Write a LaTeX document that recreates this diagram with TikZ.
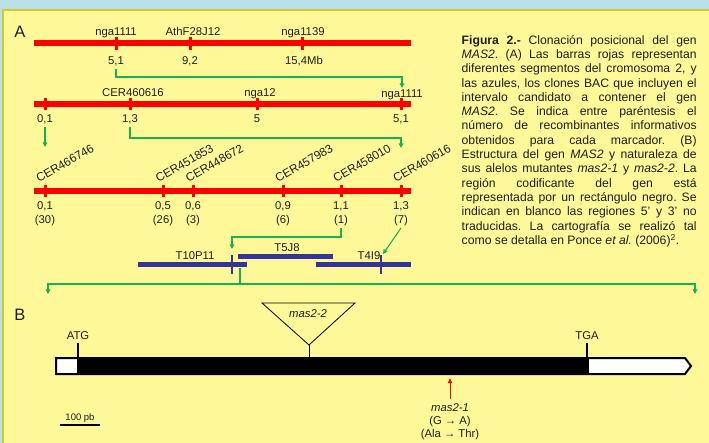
\documentclass[tikz,border=0pt]{standalone}
\usepackage{fontspec}
\setmainfont{Liberation Sans}
\usetikzlibrary{arrows.meta}
\definecolor{bgyellow}{RGB}{255,248,153}
\definecolor{bgblue}{RGB}{186,224,234}
\definecolor{bordercol}{RGB}{214,200,40}
\definecolor{mapred}{RGB}{255,0,0}
\definecolor{mapgreen}{RGB}{20,178,80}
\definecolor{navy}{RGB}{51,51,153}
\definecolor{txt}{RGB}{30,30,30}
\frenchspacing
\tikzset{
  redbar/.style={draw=mapred, line width=6pt},
  redtick/.style={draw=mapred, line width=3pt},
  bluebar/.style={draw=navy, line width=5pt},
  bluetick/.style={draw=navy, line width=2.5pt},
  lbl/.style={font=\fontsize{11.3}{13}\selectfont, text=txt, inner sep=0pt},
  rlbl/.style={font=\fontsize{11.8}{13}\selectfont, text=txt, inner sep=0pt, rotate=30, anchor=base west},
  panel/.style={font=\fontsize{16.5}{18}\selectfont, text=txt, inner sep=0pt, anchor=base},
  gline/.style={draw=mapgreen, line width=1.1pt},
  garrow/.style={gline, -{Triangle[width=4.5pt,length=4.5pt]}},
  blk/.style={draw=black, line width=2.5pt},
}
\begin{document}
\begin{tikzpicture}[x=1pt,y=-1pt]
\useasboundingbox (0,0) rectangle (709,443);
% background
\fill[bgblue] (0,0) rectangle (709,443);
\fill[bgyellow] (3,10) rectangle (709,443);
\draw[bordercol, line width=1.6pt] (3,443) -- (3,10) -- (709,10);

% panel letters
\node[panel] (pA) at (20,38) {A};
\node[panel] (pB) at (20,321) {B};

% ---------- bar 1 ----------
\coordinate (b1s) at (34,43); \coordinate (b1e) at (411,43);
\draw[redbar] (b1s) -- (b1e);
\foreach \x in {116,190,302} \draw[redtick] (\x,37.5) -- (\x,50);
\node[lbl, anchor=base] (t11) at (116,36) {nga1111};
\node[lbl, anchor=base] (t12) at (193,36) {AthF28J12};
\node[lbl, anchor=base] (t13) at (303,36) {nga1139};
\node[lbl, anchor=base] (n11) at (116,65) {5,1};
\node[lbl, anchor=base] (n12) at (190,65) {9,2};
\node[lbl, anchor=base] (n13) at (304,65) {15,4Mb};

\coordinate (g1b) at (402,77); \coordinate (g1c) at (402,88);
\draw[garrow] ([yshift=-2pt]n11.south) |- (g1b) -- (g1c);

% ---------- bar 2 ----------
\coordinate (b2s) at (34,104); \coordinate (b2e) at (411,104);
\draw[redbar] (b2s) -- (b2e);
\foreach \x in {45,130,257,401} \draw[redtick] (\x,98) -- (\x,110.5);
\node[lbl, anchor=base] (t21) at (133,96.5) {CER460616};
\node[lbl, anchor=base] (t22) at (260,96.5) {nga12};
\node[lbl, anchor=base] (t23) at (402,97.5) {nga1111};
\node[lbl, anchor=base] (n21) at (45,123) {0,1};
\node[lbl, anchor=base] (n22) at (130,123) {1,3};
\node[lbl, anchor=base] (n23) at (257,123) {5};
\node[lbl, anchor=base] (n24) at (401,123) {5,1};

\coordinate (g2a) at (45,147);
\draw[garrow] ([yshift=-2pt]n21.south) -- (g2a);
\coordinate (g3b) at (401,138); \coordinate (g3c) at (401,148);
\draw[garrow] ([yshift=-2pt]n22.south) |- (g3b) -- (g3c);

% ---------- bar 3 ----------
\coordinate (b3s) at (34,191); \coordinate (b3e) at (411,191);
\draw[redbar] (b3s) -- (b3e);
\foreach \x in {45,163,193,283,341,401} \draw[redtick] (\x,185) -- (\x,197.5);
\node[rlbl] (t31) at (39,183) {CER466746};
\node[rlbl] (t32) at (158.5,183) {CER451853};
\node[rlbl] (t33) at (188.5,183) {CER448672};
\node[rlbl] (t34) at (278,183) {CER457983};
\node[rlbl] (t35) at (336,183) {CER458010};
\node[rlbl] (t36) at (396,183) {CER460616};
\node[lbl, anchor=base] (n31) at (45,210) {0,1};
\node[lbl, anchor=base] (n32) at (163,210) {0,5};
\node[lbl, anchor=base] (n33) at (193,210) {0,6};
\node[lbl, anchor=base] (n34) at (283,210) {0,9};
\node[lbl, anchor=base] (n35) at (341,210) {1,1};
\node[lbl, anchor=base] (n36) at (401,210) {1,3};
\node[lbl, anchor=base] (r31) at (45,223.5) {(30)};
\node[lbl, anchor=base] (r32) at (163,223.5) {(26)};
\node[lbl, anchor=base] (r33) at (193,223.5) {(3)};
\node[lbl, anchor=base] (r34) at (283,223.5) {(6)};
\node[lbl, anchor=base] (r35) at (341,223.5) {(1)};
\node[lbl, anchor=base] (r36) at (401,223.5) {(7)};

\coordinate (g4b) at (232,237); \coordinate (g4c) at (232,249);
\draw[garrow] ([yshift=-2pt]r35.south) |- (g4b) -- (g4c);
\coordinate (g5b) at (383,254);
\draw[garrow] ([yshift=-2pt]r36.south) -- (g5b);

% ---------- BAC clones ----------
\coordinate (c1s) at (138,265); \coordinate (c1e) at (247,265);
\coordinate (c2s) at (238,257); \coordinate (c2e) at (333,257);
\coordinate (c3s) at (316,265); \coordinate (c3e) at (411,265);
\draw[bluebar] (c1s) -- (c1e);
\draw[bluebar] (c2s) -- (c2e);
\draw[bluebar] (c3s) -- (c3e);
\draw[bluetick] (232,255) -- (232,274);
\draw[bluetick] (381,255) -- (381,274);
\node[lbl, anchor=base] (k1) at (195,260) {T10P11};
\node[lbl, anchor=base] (k2) at (287,252) {T5J8};
\node[lbl, anchor=base] (k3) at (369,260) {T4I9};

\coordinate (g6a) at (240,268); \coordinate (g6b) at (240,284);
\coordinate (g6l) at (48,294); \coordinate (g6r) at (695,294);
\draw[gline] (g6a) -- (g6b);
\draw[garrow] (g6b) -| (g6l);
\draw[garrow] (g6b) -| (g6r);

% ---------- gene ----------
\filldraw[fill=white, draw=black, line width=2pt, line join=miter]
  (56,358) -- (685,358) -- (691,366) -- (685,374) -- (56,374) -- cycle;
\fill[black] (77,358) rectangle (589,374);
\draw[black, line width=2pt] (56,358) -- (589,358) (56,374) -- (589,374);
\coordinate (atg) at (78,358); \coordinate (tga) at (587,358);
\draw[blk] (atg) -- ++(0,-15);
\draw[blk] (tga) -- ++(0,-15);
\node[lbl, anchor=base] (latg) at (78,339.5) {ATG};
\node[lbl, anchor=base] (ltga) at (587,340) {TGA};

\coordinate (tri1) at (262,303); \coordinate (tri2) at (355,303); \coordinate (tri3) at (309,345);
\draw[black, line width=0.8pt, line join=miter] (tri1) -- (tri2) -- (tri3) -- cycle;
\draw[black, line width=0.8pt] (tri3) -- (309,358);
\node[lbl, anchor=base] (m22) at (308,318) {\itshape mas2-2};

\coordinate (ra) at (450,399); \coordinate (rb) at (450,378);
\draw[mapred, line width=1pt, -{Triangle[width=4pt,length=5pt]}] (ra) -- (rb);
\node[lbl, anchor=base] (m21) at (450,411) {\itshape mas2-1};
\node[lbl, anchor=base] (m21b) at (450,424.5) {(G → A)};
\node[lbl, anchor=base] (m21c) at (450,437.5) {(Ala → Thr)};

\coordinate (sb1) at (60,425); \coordinate (sb2) at (100,425);
\draw[black, line width=2.5pt] (sb1) -- (sb2);
\node[inner sep=0pt, anchor=base, text=txt, font=\fontsize{9.5}{10}\selectfont] (sbl) at (80,420) {100 pb};

% ---------- caption ----------
\node[anchor=north west, inner sep=0pt, text width=235pt, align=justify, text=txt,
      font=\fontsize{12.2}{14.3}\selectfont] (cap) at (461.5,35) {%
\textbf{Figura 2.-} Clonación posicional del gen\linebreak
\textit{MAS2}. (A) Las barras rojas representan\linebreak
diferentes segmentos del cromosoma 2, y\linebreak
las azules, los clones BAC que incluyen el\linebreak
intervalo candidato a contener el gen\linebreak
\textit{MAS2}. Se indica entre paréntesis el\linebreak
número de recombinantes informativos\linebreak
obtenidos para cada marcador. (B)\linebreak
Estructura del gen \textit{MAS2} y naturaleza de\linebreak
sus alelos mutantes \textit{mas2-1} y \textit{mas2-2}. La\linebreak
región codificante del gen está\linebreak
representada por un rectángulo negro. Se\linebreak
indican en blanco las regiones 5' y 3' no\linebreak
traducidas. La cartografía se realizó tal\linebreak
como se detalla en Ponce \textit{et al.} (2006)\textsuperscript{2}.};
\end{tikzpicture}
\end{document}
